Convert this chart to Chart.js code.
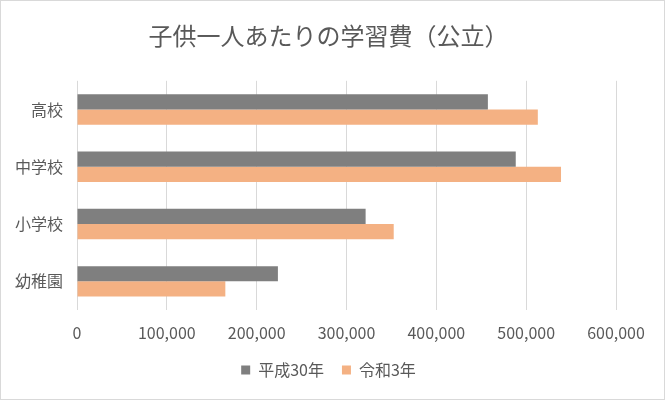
<!DOCTYPE html>
<html>
<head>
<meta charset="utf-8">
<script src="https://cdn.jsdelivr.net/npm/chart.js@4/dist/chart.umd.min.js"></script>
<style>
  html, body { margin: 0; padding: 0; background: #fff; }
  #wrap { position: relative; width: 663px; height: 398px; border: 1px solid #d9d9d9; }
</style>
</head>
<body>
<div id="wrap"><canvas id="ctx"></canvas></div>
<script>
const categories = ['高校', '中学校', '小学校', '幼稚園'];
const seriesNames = ['平成30年', '令和3年'];
const h30 = [457380, 488397, 321281, 223647];
const r3 = [512971, 538799, 352566, 165126];
const xTicks = [0, 100000, 200000, 300000, 400000, 500000, 600000];

const fontFamily = '"Noto Sans CJK JP", "Noto Sans", sans-serif';
Chart.defaults.font.family = fontFamily;
Chart.defaults.color = '#595959';

const mychart = document.getElementById('ctx');
new Chart(mychart, {
    type: 'bar',
    data: {
        labels: categories,
        datasets: [
            { label: seriesNames[0], data: h30, backgroundColor: '#7f7f7f' },
            { label: seriesNames[1], data: r3, backgroundColor: '#f4b183' }
        ]
    },
    options: {
        indexAxis: 'y',
        responsive: true,
        maintainAspectRatio: false,
        animation: false,
        datasets: {
            bar: { categoryPercentage: 0.53, barPercentage: 1.0 }
        },
        layout: { padding: { left: 0, right: 8, top: 0, bottom: 11 } },
        scales: {
            x: {
                min: 0,
                max: 600000,
                afterBuildTicks: (axis) => { axis.ticks = xTicks.map(v => ({ value: v })); },
                // fixed room: right margin and axis height like the excel plot
                afterFit: (axis) => { axis.paddingRight = 48; axis.height = 34; },
                grid: { color: '#d9d9d9', drawTicks: false },
                border: { display: false },
                ticks: {
                    padding: 13,
                    font: { size: 16 },
                    callback: (v) => v.toLocaleString('en-US')
                }
            },
            y: {
                grid: { display: false, drawTicks: false },
                border: { display: false },
                ticks: { padding: 14, font: { size: 16 } }
            }
        },
        plugins: {
            title: {
                display: true,
                text: '子供一人あたりの学習費（公立）',
                font: { size: 24, weight: 'normal' },
                color: '#595959',
                padding: { top: 20, bottom: 31 }
            },
            legend: {
                position: 'bottom',
                labels: {
                    boxWidth: 9,
                    boxHeight: 9,
                    padding: 18,
                    font: { size: 16 },
                    color: '#595959'
                }
            },
            tooltip: { enabled: false }
        }
    }
});
</script>
</body>
</html>
